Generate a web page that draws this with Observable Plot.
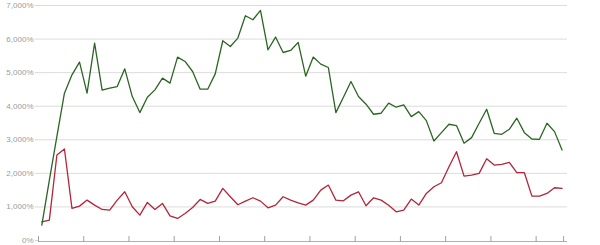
<!DOCTYPE html>
<html>
<head>
<meta charset="utf-8">
<script src="https://cdn.jsdelivr.net/npm/d3@7"></script>
<script src="https://cdn.jsdelivr.net/npm/@observablehq/plot@0.6"></script>
<style>
  html, body { margin: 0; padding: 0; background: #fff; }
  #chart svg { display: block; }
</style>
</head>
<body>
<div id="chart"></div>
<script>
// Series values (percent), one per period
const greenValues = [457, 1800, 3100, 4388, 4934, 5313, 4388, 5880, 4478, 4537, 4585, 5113,
  4288, 3810, 4268, 4487, 4836, 4687, 5463, 5333, 5034, 4507, 4507, 4964,
  5950, 5780, 6030, 6696, 6576, 6854, 5681, 6060, 5600, 5660, 5900, 4894,
  5463, 5254, 5154, 3810, 4268, 4735, 4288, 4060, 3761, 3791, 4090,
  3970, 4040, 3691, 3840, 3571, 2964, 3213, 3463, 3422, 2896, 3064,
  3493, 3910, 3194, 3164, 3313, 3642, 3213, 3024, 3014, 3493, 3243, 2696];
const redValues = [555, 606, 2546, 2725, 955, 1024, 1203, 1054, 925, 905, 1203, 1451,
  1004, 755, 1134, 925, 1104, 735, 656, 806, 985, 1223, 1104, 1173,
  1551, 1303, 1064, 1173, 1273, 1173, 974, 1054, 1303, 1203, 1124, 1054,
  1203, 1501, 1651, 1203, 1183, 1352, 1451, 1034, 1273, 1203, 1050,
  855, 905, 1233, 1054, 1402, 1600, 1720, 2198, 2645, 1919, 1949,
  2000, 2437, 2248, 2268, 2327, 2019, 2019, 1323, 1323, 1402, 1571, 1551];
// Y tick labels
const yTicks = [0, 1000, 2000, 3000, 4000, 5000, 6000, 7000];
// X tick positions (period boundaries, in period index units)
const xTicks = [-0.44, 5.56, 11.56, 17.56, 23.56, 29.56, 35.56, 41.56, 47.56, 53.56, 59.56, 65.56, 69.2];

const green = greenValues.map((v, i) => ({i, v}));
const red = redValues.map((v, i) => ({i, v}));

const chart = Plot.plot({
  width: 600,
  height: 245,
  marginTop: 5,
  marginBottom: 5,
  marginLeft: 38,
  marginRight: 33,
  style: {fontFamily: "Liberation Sans, Arial, sans-serif", background: "#fff"},
  x: {domain: [-0.44, 69.72], axis: null, label: null},
  y: {domain: [0, 7000], axis: null, label: null},
  marks: [
    Plot.gridY(yTicks.slice(1), {stroke: "#dcdcdc", strokeOpacity: 1, strokeWidth: 1}),
    Plot.axisY(yTicks, {
      label: null,
      tickFormat: d => d3.format(",")(d) + "%",
      tickSize: 3, tickPadding: 2, fontSize: 8, fill: "#9a9a9a", stroke: "#d8d8d8"
    }),
    Plot.ruleY([0], {stroke: "#b0b0b0", strokeWidth: 1.2, dy: 1}),
    Plot.axisX(xTicks, {
      label: null,
      anchor: "bottom", tickSize: 6, tickFormat: () => "", stroke: "#a0a0a0", dy: -4
    }),
    Plot.lineY(red, {x: "i", y: "v", stroke: "#b3253a", strokeWidth: 1.3}),
    Plot.lineY(green, {x: "i", y: "v", stroke: "#2a6622", strokeWidth: 1.3})
  ]
});
document.getElementById("chart").appendChild(chart);
</script>
</body>
</html>
